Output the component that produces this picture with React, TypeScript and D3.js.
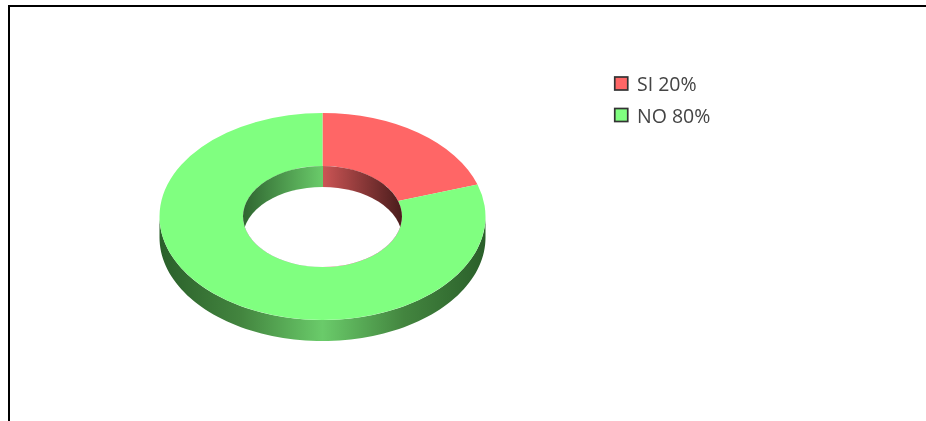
import React from "react";
import * as d3 from "d3";

const categories = ["SI", "NO"];
const seriesValues = [20, 80];
const colors = ["#ff6666", "#80ff80"];
const legendLabels = ["SI 20%", "NO 80%"];

const W = 926, H = 421;
const cx = 322.5, cy = 216.5, rx = 163, ry = 103.5, rxIn = 79.5, depth = 21;
const yScale = ry / rx;

function outerWallPath() {
  const n = 90;
  const line = d3.line<[number, number]>();
  const front = d3.range(n + 1).map((i) => {
    const t = (Math.PI * i) / n;
    return [cx + rx * Math.cos(t), cy + ry * Math.sin(t)] as [number, number];
  });
  const back = front.slice().reverse().map(([x, y]) => [x, y + depth] as [number, number]);
  return line([...front, ...back])! + "Z";
}

export default function App() {
  const pie = d3.pie<number>().sort(null).startAngle(0).endAngle(2 * Math.PI);
  const arcs = pie(seriesValues);
  const arc = d3.arc<d3.PieArcDatum<number>>().innerRadius(rxIn).outerRadius(rx);
  const ryIn = rxIn * yScale;
  return (
    <svg width={W} height={H} style={{ position: "absolute", left: 0, top: 0, background: "#fff", filter: "blur(0.45px)" }}>
      <defs>
        <linearGradient id="outerWall" gradientUnits="userSpaceOnUse" x1={cx - rx} x2={cx + rx} y1={0} y2={0}>
          <stop offset="0" stopColor="#2a5f2a" />
          <stop offset="0.25" stopColor="#43853f" />
          <stop offset="0.5" stopColor="#6acb6a" />
          <stop offset="0.75" stopColor="#43853f" />
          <stop offset="1" stopColor="#2a5f2a" />
        </linearGradient>
        <linearGradient id="innerWall" gradientUnits="userSpaceOnUse" x1={cx - rxIn} x2={cx + rxIn} y1={0} y2={0}>
          <stop offset="0" stopColor="#2f6530" />
          <stop offset="0.5" stopColor="#6acb6a" />
          <stop offset="0.5" stopColor="#cc5555" />
          <stop offset="1" stopColor="#4a1c1c" />
        </linearGradient>
        <clipPath id="hole">
          <ellipse cx={cx} cy={cy} rx={rxIn} ry={ryIn} />
        </clipPath>
      </defs>

      <path d={`M9 ${H}V6H${W + 2}`} fill="none" stroke="#000" strokeWidth={2} />

      <path d={outerWallPath()} fill="url(#outerWall)" />

      <g transform={`translate(${cx},${cy}) scale(1,${yScale})`}>
        {arcs.map((d, i) => (
          <path key={categories[i]} d={arc(d)!} fill={colors[i]} />
        ))}
      </g>

      <ellipse cx={cx} cy={cy} rx={rxIn} ry={ryIn} fill="url(#innerWall)" />
      <g clipPath="url(#hole)">
        <ellipse cx={cx} cy={cy + depth} rx={rxIn} ry={ryIn} fill="#fff" />
      </g>

      {legendLabels.map((t, i) => (
        <g key={t}>
          <rect x={614.75} y={77} width={13} height={13} transform={`translate(0,${i * 31.5})`} fill={colors[i]} stroke="#333" strokeWidth={1.7} />
          <text x={637} y={91 + i * 31.5} fontFamily="'Open Sans', sans-serif" fontSize={19.5} fill="#444">
            {t}
          </text>
        </g>
      ))}
    </svg>
  );
}
